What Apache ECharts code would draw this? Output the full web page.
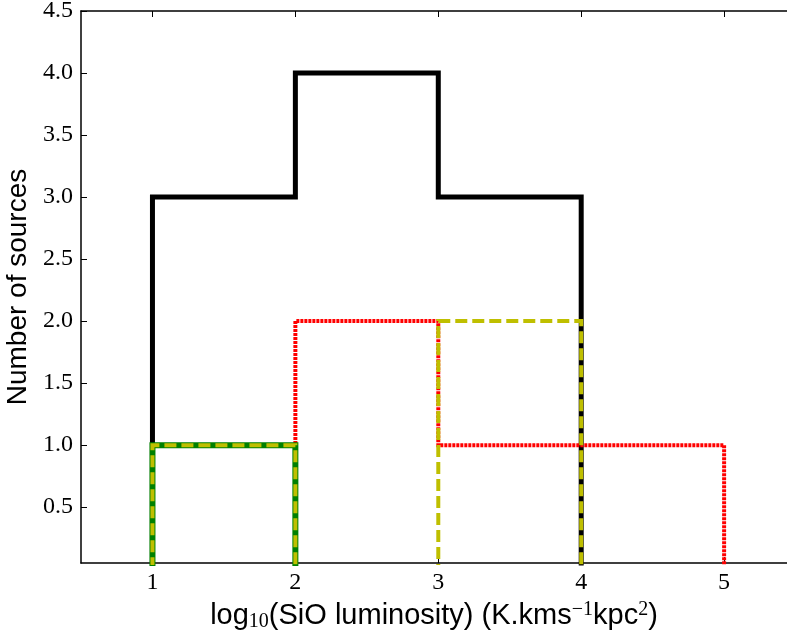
<!DOCTYPE html>
<html><head><meta charset="utf-8">
<script src="https://cdn.jsdelivr.net/npm/echarts@6/dist/echarts.min.js"></script>
<style>html,body{margin:0;padding:0;background:#fff}#c{width:787px;height:633px}</style>
</head><body><div id="c"></div>
<script>
// Histogram bin edges and counts per sample
const binEdges = [1, 2, 3, 4, 5];
const allCounts = [3, 4, 3, 0];
const redCounts = [1, 2, 1, 1];
const yellowCounts = [1, 0, 2, 0];
const greenCounts = [1, 0, 0, 0];
const xTicks = [1, 2, 3, 4, 5];
const yTicks = [0.5, 1.0, 1.5, 2.0, 2.5, 3.0, 3.5, 4.0, 4.5];

function stepPath(edges, counts) {
  const pts = [[edges[0], 0]];
  for (let i = 0; i < counts.length; i++) {
    pts.push([edges[i], counts[i]]);
    pts.push([edges[i + 1], counts[i]]);
  }
  pts.push([edges[edges.length - 1], 0]);
  return pts;
}

const chart = echarts.init(document.getElementById('c'), null, {renderer: 'canvas'});
const serif = 'Liberation Serif';
const sans = 'Liberation Sans';
function mk(name, counts, color, width, type) {
  return {
    name: name, type: 'line', data: stepPath(binEdges, counts), symbol: 'none',
    clip: true, animation: false,
    lineStyle: {color: color, width: width, type: type, cap: 'butt', join: 'miter'}
  };
}
chart.setOption({
  animation: false,
  backgroundColor: '#fff',
  grid: {left: 81, top: 11, right: 0, bottom: 70, containLabel: false, outerBoundsMode: 'none'},
  xAxis: [{
    type: 'value', min: 0.5, max: 5.44, position: 'bottom',
    axisLine: {show: true, onZero: false, lineStyle: {color: '#000', width: 1.5}},
    axisTick: {show: true, inside: true, length: 6, customValues: xTicks, lineStyle: {color: '#000', width: 1}},
    axisLabel: {show: true, customValues: xTicks, margin: 8, color: '#000', fontFamily: serif, fontSize: 24,
      formatter: v => String(v)},
    splitLine: {show: false},
    name: 'log{sub|10}(SiO luminosity) (K.kms{sup|−1}kpc{sup|2})',
    nameLocation: 'middle', nameGap: 30,
    nameTextStyle: {color: '#000', fontFamily: sans, fontSize: 29, lineHeight: 32,
      rich: {
        sub: {fontFamily: serif, fontSize: 20, color: '#000', verticalAlign: 'bottom', lineHeight: 32},
        sup: {fontFamily: serif, fontSize: 20, color: '#000', verticalAlign: 'top', lineHeight: 32}
      }}
  }, {
    type: 'value', min: 0.5, max: 5.44, position: 'top',
    axisLine: {show: true, onZero: false, lineStyle: {color: '#000', width: 1.5}},
    axisTick: {show: true, inside: true, length: 6, customValues: xTicks, lineStyle: {color: '#000', width: 1}},
    axisLabel: {show: false}, splitLine: {show: false}
  }],
  yAxis: [{
    type: 'value', min: 0.05, max: 4.5, position: 'left',
    axisLine: {show: true, onZero: false, lineStyle: {color: '#000', width: 1.5}},
    axisTick: {show: true, inside: true, length: 6, customValues: yTicks, lineStyle: {color: '#000', width: 1}},
    axisLabel: {show: true, customValues: yTicks, margin: 8, color: '#000', fontFamily: serif, fontSize: 24,
      formatter: v => v.toFixed(1)},
    splitLine: {show: false},
    name: 'Number of sources', nameLocation: 'middle', nameGap: 45, nameRotate: 90,
    nameTextStyle: {color: '#000', fontFamily: sans, fontSize: 28}
  }],
  series: [
    mk('all', allCounts, '#000000', 5, 'solid'),
    mk('red', redCounts, '#ff0000', 4, [3, 1]),
    mk('green', greenCounts, '#008000', 6, 'solid'),
    mk('yellow', yellowCounts, '#bfbf00', 4, [12, 5])
  ]
});
</script>
</body></html>
